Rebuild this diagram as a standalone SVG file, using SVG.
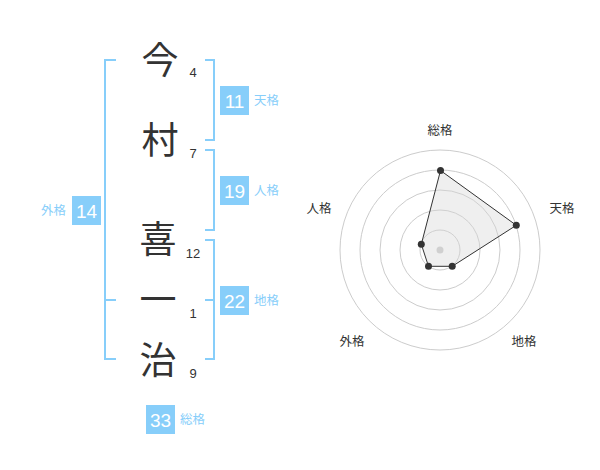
<svg xmlns="http://www.w3.org/2000/svg" width="600" height="470" viewBox="0 0 600 470">
<style>
.kanji{font-family:"Noto Sans CJK JP","Noto Sans CJK SC",sans-serif;font-size:37px;fill:#333;text-anchor:middle}
.num{font-family:"Liberation Sans",Arial,sans-serif;font-size:13px;fill:#333;text-anchor:middle}
.br{fill:none;stroke:#87cefa;stroke-width:2}
.box{fill:#87cefa}
.bv{font-family:"Liberation Sans",Arial,sans-serif;font-size:19px;fill:#fff;text-anchor:middle}
.bl{font-family:"Noto Sans CJK JP",sans-serif;font-size:12.5px;fill:#87cefa}
.ring{fill:none;stroke:#ccc;stroke-width:1}
.ax{font-family:"Noto Sans CJK JP",sans-serif;font-size:12.5px;fill:#333;text-anchor:middle}
.pt{fill:#333}
</style>
<rect width="600" height="470" fill="#fff"/>
<g id="name">
<text class="kanji" x="160" y="74">今</text>
<text class="kanji" x="160" y="154">村</text>
<text class="kanji" x="158" y="253">喜</text>
<text class="kanji" x="158" y="313">一</text>
<text class="kanji" x="158" y="374">治</text>
<text class="num" x="193" y="77">4</text>
<text class="num" x="193" y="157.5">7</text>
<text class="num" x="193" y="257.5">12</text>
<text class="num" x="193" y="318">1</text>
<text class="num" x="193" y="378">9</text>
</g>
<g id="connectors">
<path class="br" d="M116 60 H105 V359 H116 M105 300 H116"/>
<path class="br" d="M205 60 H214 V140 H205"/>
<path class="br" d="M205 150 H214 V230 H205"/>
<path class="br" d="M205 240 H214 V359 H205 M214 300 H205"/>
</g>
<g id="tenkaku">
<rect class="box" x="220" y="86" width="29" height="29"/>
<text class="bv" x="234.5" y="107.5">11</text>
<text class="bl" x="254" y="105">天格</text>
</g>
<g id="jinkaku">
<rect class="box" x="220" y="176" width="29" height="29"/>
<text class="bv" x="234.5" y="197.5">19</text>
<text class="bl" x="254" y="195">人格</text>
</g>
<g id="chikaku">
<rect class="box" x="220" y="286" width="29" height="29"/>
<text class="bv" x="234.5" y="307.5">22</text>
<text class="bl" x="254" y="305">地格</text>
</g>
<g id="gaikaku">
<rect class="box" x="72" y="196" width="29" height="29"/>
<text class="bv" x="86.5" y="217.5">14</text>
<text class="bl" x="66" y="215" text-anchor="end">外格</text>
</g>
<g id="soukaku">
<rect class="box" x="146" y="405" width="29" height="29"/>
<text class="bv" x="160.5" y="426.5">33</text>
<text class="bl" x="180" y="424">総格</text>
</g>
<g id="radar">
<circle class="ring" cx="440" cy="250" r="20"/>
<circle class="ring" cx="440" cy="250" r="40"/>
<circle class="ring" cx="440" cy="250" r="60"/>
<circle class="ring" cx="440" cy="250" r="80"/>
<circle class="ring" cx="440" cy="250" r="100"/>
<circle cx="440" cy="250" r="3.5" fill="#ccc"/>
<polygon points="440.5,170.5 516.3,225.3 452.2,266.3 428.5,266.3 421.3,244.3" fill="#d8d8d8" fill-opacity="0.4" stroke="#333" stroke-width="1"/>
<circle class="pt" cx="440.5" cy="170.5" r="3.5"/>
<circle class="pt" cx="516.3" cy="225.3" r="3.5"/>
<circle class="pt" cx="452.2" cy="266.3" r="3.5"/>
<circle class="pt" cx="428.5" cy="266.3" r="3.5"/>
<circle class="pt" cx="421.3" cy="244.3" r="3.5"/>
<text class="ax" x="440" y="135">総格</text>
<text class="ax" x="562" y="213">天格</text>
<text class="ax" x="319" y="213">人格</text>
<text class="ax" x="352" y="346">外格</text>
<text class="ax" x="524" y="346">地格</text>
</g>
</svg>
